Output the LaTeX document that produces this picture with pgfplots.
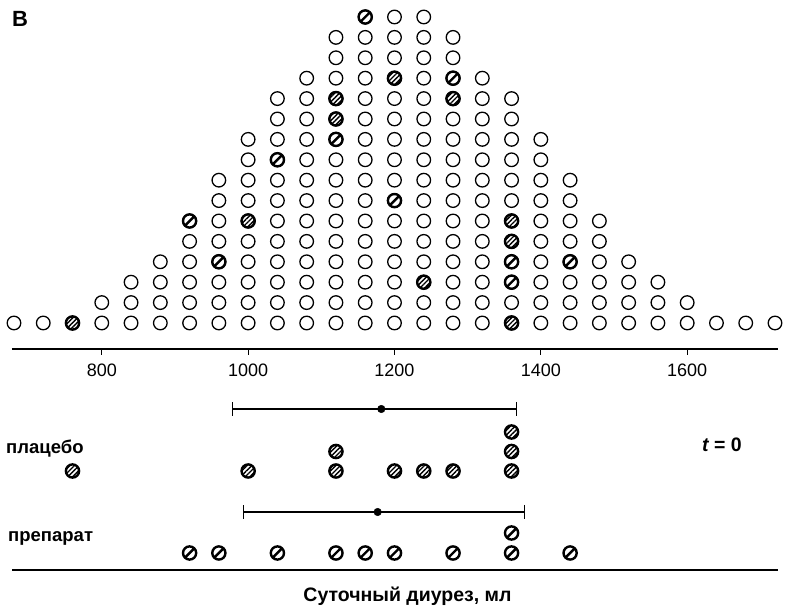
\documentclass[border=0pt]{standalone}
\usepackage{fontspec}
\setmainfont{Liberation Sans}
\usepackage{pgfplots}
\pgfplotsset{compat=1.18}
\usetikzlibrary{patterns.meta}

\pgfdeclareplotmark{slashcircle}{%
  \pgfpathcircle{\pgfpointorigin}{\pgfplotmarksize}%
  \pgfpathmoveto{\pgfpoint{-0.707\pgfplotmarksize}{-0.707\pgfplotmarksize}}%
  \pgfpathlineto{\pgfpoint{0.707\pgfplotmarksize}{0.707\pgfplotmarksize}}%
  \pgfusepathqstroke}
\tikzset{hatchfill/.style={pattern={Lines[angle=45,distance=3.3pt,line width=1.4pt]}}}
\pgfplotsset{
  opencirc/.style={only marks, mark=o, mark size=6.8pt, mark options={line width=1.3pt, draw=black}},
  placebomark/.style={only marks, mark=*, mark size=6.6pt, mark options={line width=2.4pt, draw=black, hatchfill}},
  drugmark/.style={only marks, mark=slashcircle, mark size=6.6pt, mark options={line width=2.4pt, draw=black}},
  meanbar/.style={only marks, mark=*, mark size=3.8pt, black,
    error bars/.cd, x dir=both, x explicit,
    error bar style={line width=2pt, black},
    error mark=|, error mark options={line width=0.9pt, mark size=7pt, black}},
}

\begin{document}
\begin{tikzpicture}
\useasboundingbox (0pt,0pt) rectangle (785pt,610pt);
% ---------- population (top) ----------
\begin{axis}[at={(12pt,261pt)}, anchor=south west, scale only axis,
  width=766pt, height=349pt,
  xmin=677.3, xmax=1724.1, ymin=-0.275, ymax=16.833, clip=false,
  axis x line*=bottom, axis y line=none,
  x axis line style={line width=1.8pt},
  xtick={800,1000,1200,1400,1600}, xticklabels={800,1000,1200,1400,1600},
  tick align=outside, major tick length=6pt,
  xtick style={line width=0.9pt, black},
  xticklabel style={font=\fontsize{18}{18}\selectfont, yshift=-5pt},
]
% all 200 members of the population: (value, position in stack)
\addplot[opencirc] coordinates {
(680,1) (720,1) (760,1)
(800,1) (800,2)
(840,1) (840,2) (840,3)
(880,1) (880,2) (880,3) (880,4)
(920,1) (920,2) (920,3) (920,4) (920,5) (920,6)
(960,1) (960,2) (960,3) (960,4) (960,5) (960,6) (960,7) (960,8)
(1000,1) (1000,2) (1000,3) (1000,4) (1000,5) (1000,6) (1000,7) (1000,8) (1000,9) (1000,10)
(1040,1) (1040,2) (1040,3) (1040,4) (1040,5) (1040,6) (1040,7) (1040,8) (1040,9) (1040,10) (1040,11) (1040,12)
(1080,1) (1080,2) (1080,3) (1080,4) (1080,5) (1080,6) (1080,7) (1080,8) (1080,9) (1080,10) (1080,11) (1080,12) (1080,13)
(1120,1) (1120,2) (1120,3) (1120,4) (1120,5) (1120,6) (1120,7) (1120,8) (1120,9) (1120,10) (1120,11) (1120,12) (1120,13) (1120,14) (1120,15)
(1160,1) (1160,2) (1160,3) (1160,4) (1160,5) (1160,6) (1160,7) (1160,8) (1160,9) (1160,10) (1160,11) (1160,12) (1160,13) (1160,14) (1160,15) (1160,16)
(1200,1) (1200,2) (1200,3) (1200,4) (1200,5) (1200,6) (1200,7) (1200,8) (1200,9) (1200,10) (1200,11) (1200,12) (1200,13) (1200,14) (1200,15) (1200,16)
(1240,1) (1240,2) (1240,3) (1240,4) (1240,5) (1240,6) (1240,7) (1240,8) (1240,9) (1240,10) (1240,11) (1240,12) (1240,13) (1240,14) (1240,15) (1240,16)
(1280,1) (1280,2) (1280,3) (1280,4) (1280,5) (1280,6) (1280,7) (1280,8) (1280,9) (1280,10) (1280,11) (1280,12) (1280,13) (1280,14) (1280,15)
(1320,1) (1320,2) (1320,3) (1320,4) (1320,5) (1320,6) (1320,7) (1320,8) (1320,9) (1320,10) (1320,11) (1320,12) (1320,13)
(1360,1) (1360,2) (1360,3) (1360,4) (1360,5) (1360,6) (1360,7) (1360,8) (1360,9) (1360,10) (1360,11) (1360,12)
(1400,1) (1400,2) (1400,3) (1400,4) (1400,5) (1400,6) (1400,7) (1400,8) (1400,9) (1400,10)
(1440,1) (1440,2) (1440,3) (1440,4) (1440,5) (1440,6) (1440,7) (1440,8)
(1480,1) (1480,2) (1480,3) (1480,4) (1480,5) (1480,6)
(1520,1) (1520,2) (1520,3) (1520,4)
(1560,1) (1560,2) (1560,3)
(1600,1) (1600,2)
(1640,1) (1680,1) (1720,1)
};
% placebo sample
\addplot[placebomark] coordinates {
(760,1) (1000,6) (1120,11) (1120,12) (1200,13) (1240,3) (1280,12) (1360,1) (1360,5) (1360,6)
};
% drug sample
\addplot[drugmark] coordinates {
(920,6) (960,4) (1040,9) (1120,10) (1160,16) (1200,7) (1280,13) (1360,3) (1360,4) (1440,4)
};
\end{axis}
% ---------- samples (bottom) ----------
\begin{axis}[at={(12pt,40pt)}, anchor=south west, scale only axis,
  width=766pt, height=221pt,
  xmin=677.3, xmax=1724.1, ymin=0, ymax=221, clip=false,
  axis x line*=bottom, axis y line=none,
  x axis line style={line width=1.8pt},
  xtick=\empty,
]
\addplot[placebomark] coordinates {
(760,99) (1000,99) (1120,99) (1120,118.5) (1200,99) (1240,99) (1280,99) (1360,99) (1360,118.5) (1360,138)
};
\addplot[drugmark] coordinates {
(920,17) (960,17) (1040,17) (1120,17) (1160,17) (1200,17) (1280,17) (1360,17) (1360,37) (1440,17)
};
% mean and spread of each sample
\addplot[meanbar] coordinates {(1182,161) += (185,0) -= (204,0)};
\addplot[meanbar] coordinates {(1177,58) += (201,0) -= (184,0)};
\end{axis}
\node[anchor=base west, inner sep=0pt, font=\bfseries\fontsize{22}{22}\selectfont] at (12pt,583pt) {В};
\node[anchor=base west, inner sep=0pt, font=\bfseries\fontsize{18.5}{19}\selectfont] at (6pt,156pt) {плацебо};
\node[anchor=base west, inner sep=0pt, font=\bfseries\fontsize{18.5}{19}\selectfont] at (8pt,68pt) {препарат};
\node[anchor=base west, inner sep=0pt, font=\bfseries\fontsize{19.5}{20}\selectfont] at (702pt,158pt) {{\itshape t} = 0};
\node[anchor=base, inner sep=0pt, font=\bfseries\fontsize{19.5}{20}\selectfont] at (407.5pt,8pt) {Суточный диурез, мл};
\end{tikzpicture}
\end{document}
